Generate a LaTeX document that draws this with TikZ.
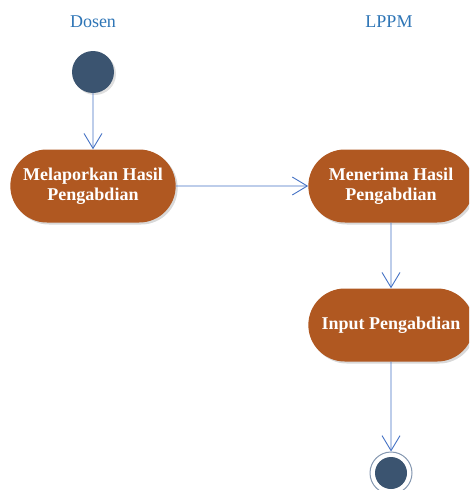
\documentclass[tikz,border=0pt]{standalone}
\usepackage{fontspec}
\setmainfont{Liberation Serif}
\usetikzlibrary{arrows.meta,shapes.misc,shadows}
\definecolor{actfill}{RGB}{176,88,33}
\definecolor{dotblue}{RGB}{59,84,112}
\definecolor{flowblue}{RGB}{68,114,196}
\definecolor{lanetext}{RGB}{46,117,182}
\definecolor{ringgray}{RGB}{132,151,176}
\begin{document}
\begin{tikzpicture}[x=1pt,y=-1pt,
    activity/.style = {rounded rectangle,
        fill=actfill, text=white,
        minimum width=172pt, minimum height=73pt,
        align=center,
        font=\fontsize{18}{20.5}\selectfont\bfseries,
        drop shadow={opacity=0.3, shadow xshift=2pt, shadow yshift=-2pt}},
    flow/.style = {draw=flowblue, line width=0.9pt,
        -{Straight Barb[length=15pt,width=18pt]}},
    lane/.style = {text=lanetext,
        font=\fontsize{18}{20}\selectfont}]

\useasboundingbox (0,0) rectangle (469,490);
\clip (0,0) rectangle (469,490);

% Lanes
\node[lane] (dosen) at (93,22) {Dosen};
\node[lane] (lppm) at (389,22) {LPPM};

% Start
\node[circle, fill=dotblue, minimum size=42pt, inner sep=0pt,
    drop shadow={opacity=0.25, shadow xshift=2pt, shadow yshift=-2pt}] (start) at (93,72) {};

% Activities
\node[activity] (lapor) at (93,186) {Melaporkan Hasil\\Pengabdian};
\node[activity] (terima) at (391,186) {Menerima Hasil\\Pengabdian};
\node[activity] (input) at (391,325) {Input Pengabdian};

% End
\node[circle, draw=ringgray, line width=1pt, minimum size=42pt, inner sep=0pt] (end) at (391,473) {};
\node[circle, fill=dotblue, minimum size=32pt, inner sep=0pt] (endcore) at (end) {};

% Flows
\draw[flow] (start) -- (lapor);
\draw[flow] (lapor) -- (terima);
\draw[flow] (terima) -- (input);
\draw[flow] (input) -- (end);
\end{tikzpicture}
\end{document}
